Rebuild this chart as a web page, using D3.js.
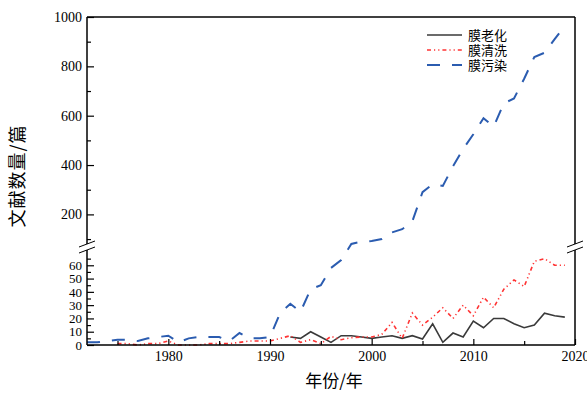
<!DOCTYPE html>
<meta charset="utf-8">
<style> /* set the CSS */

body { margin: 0; background: #fff; }

.line {
  fill: none;
  stroke-width: 1.6px;
}

.axis text {
  font-family: "Liberation Serif", serif;
  font-size: 14px;
  fill: #000;
}

.axis line { stroke: #000; stroke-width: 1.2px; }

.frame { stroke: #000; stroke-width: 1.5px; fill: none; }

.cjk { font-family: "Noto Sans CJK SC", sans-serif; fill: #000; }

</style>
<body>

<script src="https://cdnjs.cloudflare.com/ajax/libs/d3/7.8.5/d3.min.js"></script>
<script>

// data
var years = d3.range(1972, 2020);

// 膜老化 (starts 1992)
var aging = [null, null, null, null, null, null, null, null, null, null,
  null, null, null, null, null, null, null, null, null, null,
  6, 5, 10, 6, 2, 7, 7, 6, 5, 6, 7, 5, 7, 4.5, 16, 2, 9, 6, 18, 13, 20, 20, 16, 13, 15, 24, 22, 21];

// 膜清洗 (starts 1975)
var cleaning = [null, null, null, 1, 1, 0, 1, 1, 3, 0,
  0, 0, 1, 1, 1, 2, 3, 3, 3, 5,
  7, 2, 4, 1, 6.5, 4, 5.5, 6, 6, 8, 17, 5, 24, 15, 21, 28, 20, 30, 22, 36, 28, 42, 49, 44, 63, 65, 60, 60];

// 膜污染
var fouling = [2, 2, 3, 4, 4, 3, 5, 6, 7, 2,
  5, 6, 6, 6, 3, 9, 5, 5, 6, 24,
  31, 25, 42, 45, 58, 64, 80, 90, 92, 100, 127, 140, 172, 290, 322, 315, 395, 465, 525, 590, 556, 650, 670, 750, 838, 855, 910, 965];

var seriesNames = ["膜老化", "膜清洗", "膜污染"];
var xTicks = [1980, 1990, 2000, 2010, 2020];
var yTicksLow = [0, 10, 20, 30, 40, 50, 60];
var yTicksHigh = [200, 400, 600, 800, 1000];

// set the dimensions and margins of the graph
var margin = {top: 17, right: 12, bottom: 48, left: 87},
    width = 587 - margin.left - margin.right,
    height = 393 - margin.top - margin.bottom;

// broken y axis: 0-70 at the bottom, 80-1000 above
var yLowTop = 235, yHighBottom = 227;

// set the ranges
var x = d3.scaleLinear().domain([1972, 2020]).range([0, width]);
var y = d3.scaleLinear()
    .domain([0, 70, 80, 1000])
    .range([height, yLowTop, yHighBottom, 0]);

var svg = d3.select("body").append("svg")
    .attr("width", width + margin.left + margin.right)
    .attr("height", height + margin.top + margin.bottom)
  .append("g")
    .attr("transform", "translate(" + margin.left + "," + margin.top + ")");

// lines
function makeLine(vals) {
  return d3.line()
    .defined(function(d, i) { return vals[i] != null; })
    .x(function(d, i) { return x(years[i]); })
    .y(function(d, i) { return y(vals[i]); });
}

svg.append("path")
    .datum(aging)
    .attr("class", "line")
    .style("stroke", "#3a3a3a")
    .attr("d", makeLine(aging));

svg.append("path")
    .datum(cleaning)
    .attr("class", "line")
    .style("stroke", "#ff3333")
    .style("stroke-dasharray", "4,3,1.2,3,1.2,3")
    .attr("d", makeLine(cleaning));

svg.append("path")
    .datum(fouling)
    .attr("class", "line")
    .style("stroke", "#2b5cb0")
    .style("stroke-width", "2px")
    .style("stroke-dasharray", "13,12")
    .attr("d", makeLine(fouling));

// X axis, ticks pointing inward
svg.append("g")
    .attr("class", "axis")
    .attr("transform", "translate(0," + height + ")")
    .call(d3.axisBottom(x).tickValues(xTicks).tickFormat(d3.format("d")).tickSize(-6).tickPadding(6))
    .call(function(g) { g.select(".domain").remove(); });

svg.append("g")
    .attr("class", "axis")
    .attr("transform", "translate(0," + height + ")")
    .call(d3.axisBottom(x).tickValues([1975, 1985, 1995, 2005, 2015]).tickFormat("").tickSize(-4))
    .call(function(g) { g.select(".domain").remove(); });

// Y axis, lower and upper part
svg.append("g")
    .attr("class", "axis")
    .call(d3.axisLeft(y).tickValues(yTicksHigh).tickFormat(d3.format("d")).tickSize(-7).tickPadding(5))
    .call(function(g) { g.select(".domain").remove(); });

svg.append("g")
    .attr("class", "axis")
    .call(d3.axisLeft(y).tickValues(yTicksLow).tickFormat(d3.format("d")).tickSize(-7).tickPadding(5))
    .call(function(g) { g.select(".domain").remove(); })
    .selectAll("text").style("font-size", "13px");

svg.append("g")
    .attr("class", "axis")
    .call(d3.axisLeft(y).tickValues([5, 15, 25, 35, 45, 55, 65, 100, 300, 500, 700, 900]).tickFormat("").tickSize(-4))
    .call(function(g) { g.select(".domain").remove(); });

// frame with the breaks
var gapTop = yHighBottom, gapBot = yLowTop - 2;
[0, width].forEach(function(xx) {
  svg.append("line").attr("class", "frame")
      .attr("x1", xx).attr("x2", xx).attr("y1", 0).attr("y2", gapTop);
  svg.append("line").attr("class", "frame")
      .attr("x1", xx).attr("x2", xx).attr("y1", gapBot).attr("y2", height);
  [gapTop, gapBot].forEach(function(yy) {
    svg.append("line").attr("class", "frame")
        .style("stroke-width", "1px")
        .attr("x1", xx - 8).attr("x2", xx + 8)
        .attr("y1", yy + 3).attr("y2", yy - 3);
  });
});
svg.append("line").attr("class", "frame")
    .attr("x1", 0).attr("x2", width).attr("y1", 0).attr("y2", 0);
svg.append("line").attr("class", "frame")
    .attr("x1", 0).attr("x2", width).attr("y1", height).attr("y2", height);

// legend
var legend = svg.append("g").attr("transform", "translate(340,18)");
var legStyles = [
  {stroke: "#3a3a3a", dash: null, w: 1.4},
  {stroke: "#ff3333", dash: "4,3,1.2,3,1.2,3", w: 1.6},
  {stroke: "#2b5cb0", dash: "13,12", w: 2}
];
seriesNames.forEach(function(name, i) {
  var row = legend.append("g").attr("transform", "translate(0," + (i * 15) + ")");
  row.append("line")
      .attr("x1", 0).attr("x2", 35)
      .style("stroke", legStyles[i].stroke)
      .style("stroke-width", legStyles[i].w)
      .style("stroke-dasharray", legStyles[i].dash);
  row.append("text")
      .attr("class", "cjk")
      .attr("x", 41)
      .attr("dy", "0.35em")
      .style("font-size", "13px")
      .text(name);
});

// axis titles
svg.append("text")
    .attr("class", "cjk")
    .attr("x", 334 - margin.left)
    .attr("y", 387 - margin.top)
    .attr("text-anchor", "middle")
    .style("font-size", "17px")
    .text("年份/年");

svg.append("text")
    .attr("class", "cjk")
    .attr("transform", "translate(" + (24 - margin.left) + "," + (176 - margin.top) + ") rotate(-90)")
    .attr("text-anchor", "middle")
    .style("font-size", "18px")
    .style("letter-spacing", "1px")
    .text("文献数量/篇");

</script>
</body>
